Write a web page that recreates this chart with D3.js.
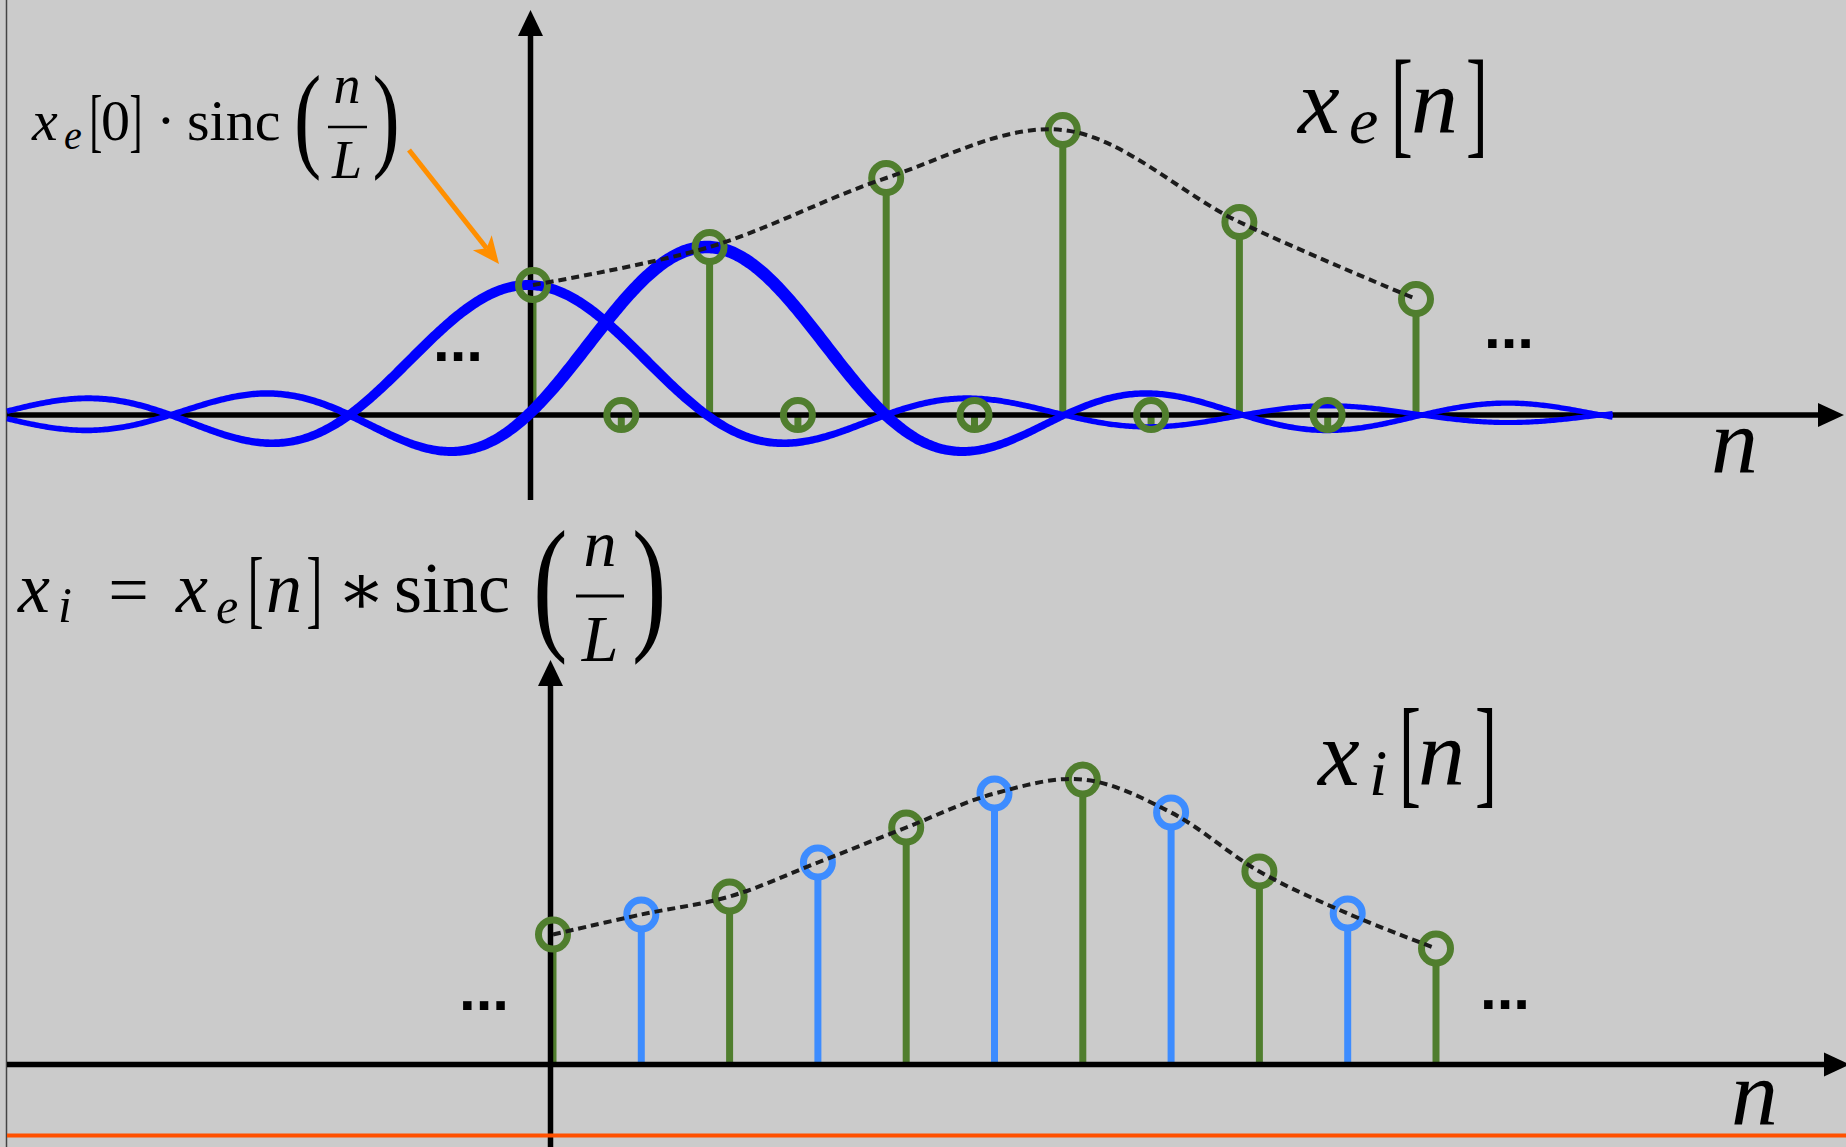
<!DOCTYPE html>
<html>
<head>
<meta charset="utf-8">
<script src="https://cdn.jsdelivr.net/npm/d3@7"></script>
<style>
  html, body { margin: 0; padding: 0; background: #cbcbcb; }
  svg { display: block; }
</style>
</head>
<body>
<svg id="chart" width="1846" height="1147"></svg>
<script>
// ---- data ----------------------------------------------------------------
// expanded sequence x_e[n]: original samples sit on the even indices
const evenIdx = [0, 2, 4, 6, 8, 10];
const xeValues = [1.30, 1.68, 2.37, 2.85, 1.93, 1.16];
// zeros inserted by the expander (L = 2)
const zeroIdx = [1, 3, 5, 7, 9];
// values filled in by the sinc interpolation filter
const interpIdx = [1, 3, 5, 7, 9];
const xiInterpValues = [1.50, 2.02, 2.71, 2.52, 1.51];
const L = 2;
// sinc kernels drawn in the upper panel: one per sample at n = 0 and n = 2
const kernelIdx = [0, 2];
const kernelWidth = [10, 12.5];   // main-lobe ribbon width of each kernel

// ---- layout --------------------------------------------------------------
const W = 1846, H = 1147;
const svg = d3.select("#chart");
const GREEN = "#507e2e", LBLUE = "#3d8cff", BLUE = "#0000ff";
const R = 14.5;            // marker radius
const SERIF = "'Liberation Serif','Times New Roman',serif";

const xTop = d3.scaleLinear().domain([0, 10]).range([533, 1416]);
const yTop = d3.scaleLinear().domain([0, 3]).range([415, 115]);
const xKer = d3.scaleLinear().domain([0, 10]).range([528, 1422]);   // kernels are sketched on a slightly wider grid
const xBot = d3.scaleLinear().domain([0, 10]).range([553, 1436]);
const yBot = d3.scaleLinear().domain([0, 3]).range([1064.5, 764.5]);

svg.append("rect").attr("width", W).attr("height", H).attr("fill", "#cbcbcb");
svg.append("line").attr("x1", 6.5).attr("x2", 6.5).attr("y1", 0).attr("y2", H)
  .attr("stroke", "#444").attr("stroke-width", 1.5);

const sinc = t => Math.abs(t) < 1e-9 ? 1 : Math.sin(Math.PI * t) / (Math.PI * t);

// ---- helpers -------------------------------------------------------------
function tex(g, str, x, y, size, o = {}) {
  return g.append("text")
    .attr("transform", `translate(${x},${y}) scale(${o.sx || 1},1)`)
    .attr("font-family", o.family || SERIF)
    .attr("font-size", size)
    .attr("font-style", o.italic ? "italic" : "normal")
    .attr("font-weight", o.bold ? "bold" : "normal")
    .attr("text-anchor", o.anchor || "start")
    .attr("fill", "#000")
    .text(str);
}

function axes(g, xs, ys, xRightTip, yTopTip, yBottom) {
  const y0 = ys(0), xv = xs(0) - 2.5;
  g.append("line").attr("x1", 7).attr("x2", xRightTip - 20).attr("y1", y0).attr("y2", y0)
    .attr("stroke", "#000").attr("stroke-width", 5.5);
  g.append("path")
    .attr("d", `M${xRightTip},${y0} L${xRightTip - 26},${y0 - 12} L${xRightTip - 26},${y0 + 12} Z`)
    .attr("fill", "#000");
  g.append("line").attr("x1", xv).attr("x2", xv).attr("y1", yTopTip + 20).attr("y2", yBottom)
    .attr("stroke", "#000").attr("stroke-width", 5.5);
  g.append("path")
    .attr("d", `M${xv},${yTopTip} L${xv - 12.5},${yTopTip + 26} L${xv + 12.5},${yTopTip + 26} Z`)
    .attr("fill", "#000");
}

function stems(g, idx, vals, xs, ys, color) {
  g.selectAll(null).data(d3.zip(idx, vals)).join("line")
    .attr("x1", d => xs(d[0])).attr("x2", d => xs(d[0]))
    .attr("y1", ys(0)).attr("y2", d => ys(d[1]) + R)
    .attr("stroke", color).attr("stroke-width", 7);
}

function markers(g, idx, vals, xs, ys, color) {
  g.selectAll(null).data(d3.zip(idx, vals)).join("circle")
    .attr("cx", d => xs(d[0])).attr("cy", d => ys(d[1])).attr("r", R)
    .attr("fill", "none").attr("stroke", color).attr("stroke-width", 7);
}

function envelope(g, pts, xs, ys) {
  g.append("path")
    .attr("d", d3.line().x(d => xs(d[0])).y(d => ys(d[1])).curve(d3.curveCatmullRom.alpha(0.5))(pts))
    .attr("fill", "none").attr("stroke", "#1c1c1c").attr("stroke-width", 4)
    .attr("stroke-dasharray", "8 5");
}

// sinc kernel drawn as a ribbon that thins out away from its centre
function kernel(g, center, amp, wMain) {
  const n0 = xKer.invert(7), n1 = xKer.invert(1613);
  const pts = d3.range(n0, n1 + 1e-9, 0.02).map(n => {
    const d = Math.abs(n - center);
    const w = d <= 1.2 ? wMain : 5 + (wMain - 5) / (1 + ((d - 1.2) / 1.8) ** 2);
    return { x: xKer(n), y: yTop(amp * sinc((n - center) / L)), w };
  });
  const left = [], right = [];
  pts.forEach((p, i) => {
    const a = pts[Math.max(0, i - 1)], b = pts[Math.min(pts.length - 1, i + 1)];
    const dx = b.x - a.x, dy = b.y - a.y, len = Math.hypot(dx, dy) || 1;
    const nx = -dy / len, ny = dx / len;
    left.push([p.x + nx * p.w / 2, p.y + ny * p.w / 2]);
    right.push([p.x - nx * p.w / 2, p.y - ny * p.w / 2]);
  });
  g.append("path")
    .attr("d", d3.line()(left.concat(right.reverse())) + "Z")
    .attr("fill", BLUE);
}

// ---- upper panel: x_e[n] and the sinc kernels -----------------------------
const upper = svg.append("g");
stems(upper, evenIdx, xeValues, xTop, yTop, GREEN);
stems(upper, zeroIdx, zeroIdx.map(() => 0), xTop, yTop, GREEN);
axes(upper, xTop, yTop, 1844, 10, 500);
kernelIdx.forEach((k, i) => kernel(upper, k, xeValues[evenIdx.indexOf(k)], kernelWidth[i]));
markers(upper, evenIdx, xeValues, xTop, yTop, GREEN);
markers(upper, zeroIdx, zeroIdx.map(() => 0), xTop, yTop, GREEN);
envelope(upper, d3.zip(evenIdx, xeValues), xTop, yTop);

// annotation arrow pointing at the kernel of the first sample
{
  const tip = [xTop(0) - 34, yTop(xeValues[0]) - 21];
  const start = [409, 150];
  const dx = tip[0] - start[0], dy = tip[1] - start[1], len = Math.hypot(dx, dy);
  const ux = dx / len, uy = dy / len, px = -uy, py = ux;
  const base = [tip[0] - ux * 27, tip[1] - uy * 27];
  const notch = [tip[0] - ux * 20, tip[1] - uy * 20];
  upper.append("line").attr("x1", start[0]).attr("y1", start[1])
    .attr("x2", notch[0]).attr("y2", notch[1])
    .attr("stroke", "#ff8f00").attr("stroke-width", 5);
  upper.append("path")
    .attr("d", `M${tip} L${base[0] + px * 12},${base[1] + py * 12} L${notch} L${base[0] - px * 12},${base[1] - py * 12} Z`)
    .attr("fill", "#ff8f00");
}

// labels
tex(upper, "x", 32, 140, 58, { italic: true });
tex(upper, "e", 64, 149, 40, { italic: true });
tex(upper, "[", 89.5, 144, 70, { sx: 0.55 });
tex(upper, "0", 101, 140, 58);
tex(upper, "]", 129.5, 144, 70, { sx: 0.55 });
tex(upper, "\u00B7", 166, 140, 58, { anchor: "middle" });
tex(upper, "sinc", 187, 140, 58);
tex(upper, "(", 294, 156, 117, { sx: 0.7 });
tex(upper, "n", 347, 103, 54, { italic: true, anchor: "middle" });
upper.append("line").attr("x1", 328).attr("x2", 367).attr("y1", 127).attr("y2", 127)
  .attr("stroke", "#000").attr("stroke-width", 2.5);
tex(upper, "L", 347, 178, 54, { italic: true, anchor: "middle" });
tex(upper, ")", 372.6, 156, 117, { sx: 0.7 });

tex(upper, "x", 1298, 133, 94, { italic: true });
tex(upper, "e", 1349, 143, 66, { italic: true });
tex(upper, "[", 1391, 141.5, 119, { sx: 0.55 });
tex(upper, "n", 1411, 133, 94, { italic: true });
tex(upper, "]", 1466, 141.5, 119, { sx: 0.55 });

tex(upper, "n", 1711, 473, 94, { italic: true });
tex(upper, "...", 433, 361, 60, { bold: true, family: "'Liberation Sans',Arial,sans-serif" });
tex(upper, "...", 1484, 348, 60, { bold: true, family: "'Liberation Sans',Arial,sans-serif" });

// ---- lower panel: interpolated x_i[n] ------------------------------------
const lower = svg.append("g");
stems(lower, evenIdx, xeValues, xBot, yBot, GREEN);
stems(lower, interpIdx, xiInterpValues, xBot, yBot, LBLUE);
axes(lower, xBot, yBot, 1850, 660, H);
markers(lower, evenIdx, xeValues, xBot, yBot, GREEN);
markers(lower, interpIdx, xiInterpValues, xBot, yBot, LBLUE);
const allPts = d3.sort(d3.zip(evenIdx, xeValues).concat(d3.zip(interpIdx, xiInterpValues)), d => d[0]);
envelope(lower, allPts, xBot, yBot);

lower.append("line").attr("x1", 7).attr("x2", W).attr("y1", 1135.5).attr("y2", 1135.5)
  .attr("stroke", "#ff5100").attr("stroke-width", 4);

tex(lower, "x", 18, 612, 72, { italic: true });
tex(lower, "i", 58, 622, 50, { italic: true });
tex(lower, "=", 128.5, 614, 72, { anchor: "middle" });
tex(lower, "x", 176, 612, 72, { italic: true });
tex(lower, "e", 216, 623, 50, { italic: true });
tex(lower, "[", 247.8, 616.6, 86, { sx: 0.55 });
tex(lower, "n", 266, 612, 72, { italic: true });
tex(lower, "]", 306.4, 616.6, 86, { sx: 0.55 });
tex(lower, "\u2217", 361.5, 614, 72, { anchor: "middle", family: "'DejaVu Serif',serif" });
tex(lower, "sinc", 394, 612, 72);
tex(lower, "(", 533, 633, 148, { sx: 0.7 });
tex(lower, "n", 600, 566, 66, { italic: true, anchor: "middle" });
lower.append("line").attr("x1", 576).attr("x2", 624).attr("y1", 596).attr("y2", 596)
  .attr("stroke", "#000").attr("stroke-width", 3);
tex(lower, "L", 600, 661, 66, { italic: true, anchor: "middle" });
tex(lower, ")", 632, 633, 148, { sx: 0.7 });

tex(lower, "x", 1318, 785, 94, { italic: true });
tex(lower, "i", 1369, 795, 66, { italic: true });
tex(lower, "[", 1399, 792, 120, { sx: 0.55 });
tex(lower, "n", 1418, 785, 94, { italic: true });
tex(lower, "]", 1475, 792, 120, { sx: 0.55 });

tex(lower, "n", 1731, 1125, 94, { italic: true });
tex(lower, "...", 459, 1010, 60, { bold: true, family: "'Liberation Sans',Arial,sans-serif" });
tex(lower, "...", 1480, 1009, 60, { bold: true, family: "'Liberation Sans',Arial,sans-serif" });
</script>
</body>
</html>
